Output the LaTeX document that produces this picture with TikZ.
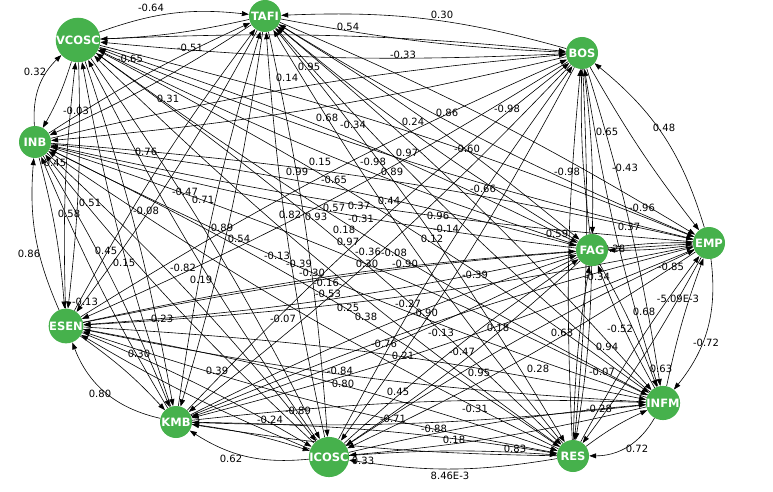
\documentclass[tikz,border=0pt]{standalone}
\usepackage{fontspec}
\setmainfont{DejaVu Sans}
\usetikzlibrary{arrows.meta}
\definecolor{nodegreen}{RGB}{70,177,76}
\pgfdeclarelayer{bg}
\pgfsetlayers{bg,main}
\begin{document}
\begin{tikzpicture}[x=1pt,y=1pt,
  vertex/.style={circle,fill=nodegreen,minimum size=32pt,inner sep=0pt,text=white,font=\bfseries\fontsize{11.5}{11.5}\selectfont},
  edge/.style={draw=black,line width=0.6pt,-{Triangle[length=7pt,width=5pt]}},
  wlabel/.style={inner sep=0pt,font=\fontsize{10}{10}\selectfont,text height=7.3pt,text depth=0pt}]
\useasboundingbox (0,0) rectangle (773,-492);
% nodes
\node[vertex] (vc)  at (78,-40)   {VCOSC};
\node[vertex] (ta)  at (265,-16)  {TAFI};
\node[vertex] (bo)  at (582,-53)  {BOS};
\node[vertex] (em)  at (709,-243) {EMP};
\node[vertex] (inf) at (663,-403) {INFM};
\node[vertex] (re)  at (573,-456) {RES};
\node[vertex] (ic)  at (329,-457) {ICOSC};
\node[vertex] (km)  at (176,-422) {KMB};
\node[vertex] (es)  at (66,-326)  {ESEN};
\node[vertex] (ib)  at (35,-142)  {INB};
\node[vertex] (fa)  at (592,-250) {FAG};
\begin{pgfonlayer}{bg}
% inner pairs, both directions
\foreach \a/\b in {vc/bo,vc/em,vc/inf,vc/re,vc/ic,vc/km,vc/es,vc/fa,
  ta/em,ta/inf,ta/re,ta/ic,ta/km,ta/es,ta/ib,ta/fa,
  bo/inf,bo/re,bo/ic,bo/km,bo/es,bo/ib,bo/fa,
  em/re,em/ic,em/km,em/es,em/ib,em/fa,
  inf/ic,inf/km,inf/es,inf/ib,inf/fa,
  re/km,re/es,re/ib,re/fa,
  ic/es,ic/ib,ic/fa,
  km/ib,km/fa,
  es/fa,
  ib/fa}{
  \draw[edge] (\a) to[bend left=4] (\b);
  \draw[edge] (\b) to[bend left=4] (\a);
}
% ring pairs
\draw[edge] (vc) to[bend left=13] (ta);
\draw[edge] (ta) to[bend left=5] (vc);
\draw[edge] (bo) to[bend right=9] (ta);
\draw[edge] (ta) to[bend right=4] (bo);
\draw[edge] (em) to[bend right=17] (bo);
\draw[edge] (bo) to[bend right=4] (em);
\draw[edge] (em) to[bend left=23] (inf);
\draw[edge] (inf) to[bend left=4] (em);
\draw[edge] (inf) to[bend left=30] (re);
\draw[edge] (re) to[bend left=6] (inf);
\draw[edge] (re) to[bend left=9] (ic);
\draw[edge] (ic) to[bend left=4] (re);
\draw[edge] (ic) to[bend left=19] (km);
\draw[edge] (km) to[bend left=5] (ic);
\draw[edge] (km) to[bend left=28] (es);
\draw[edge] (es) to[bend left=6] (km);
\draw[edge] (es) to[bend left=14] (ib);
\draw[edge] (ib) to[bend left=5] (es);
\draw[edge] (ib) to[bend left=25] (vc);
\draw[edge] (vc) to[bend left=6] (ib);
% labels
\foreach \t/\x/\y [count=\i] in {
 -0.64/151/8, -0.51/190/48, -0.65/130/59, 0.32/35/72, -0.03/76/111,
 0.31/168/99, 0.76/146/152, 0.45/55/163, 0.30/442/15, 0.54/348/27,
 -0.33/403/55, 0.95/309/67, 0.14/287/78, 0.68/327/118, -0.34/353/125,
 0.24/413/122, 0.86/447/113, -0.60/467/149, 0.97/407/153, -0.98/373/162,
 0.15/320/162, 0.99/297/172, -0.65/334/180, 0.89/392/172, -0.98/507/109,
 0.65/607/132, 0.48/664/128, -0.43/625/168, -0.98/567/172, -0.66/483/189,
 0.44/389/201, 0.57/334/208, 0.37/359/206, -0.31/361/219, 0.82/290/215,
 0.93/316/217, 0.18/344/230, 0.97/348/242, -0.36/368/252, 0.30/367/264,
 -0.08/394/253, -0.90/405/264, 0.96/438/216, -0.14/446/229, 0.12/432/239,
 -0.13/277/256, -0.39/299/264, -0.30/312/273, -0.16/326/283, -0.53/328/294,
 0.25/348/308, 0.38/366/317, -0.27/408/304, -0.90/425/313, -0.07/283/319,
 -0.39/475/275, -0.47/185/192, 0.71/203/200, 0.51/90/203, 0.58/69/214,
 -0.08/146/211, 0.89/222/228, 0.54/239/239, 0.86/29/254, 0.45/106/251,
 0.15/124/263, -0.82/183/268, 0.19/201/280, -0.13/85/302, 0.23/162/319,
 0.30/139/354, 0.39/217/371, 0.80/100/394, 0.62/231/459, -0.13/441/333,
 -0.76/384/344, 0.21/403/356, -0.47/462/352, 0.95/479/373, -0.84/340/371,
 0.80/343/384, 0.45/398/392, -0.31/475/409, -0.89/298/411, -0.24/270/420,
 -0.71/393/419, -0.88/434/429, 0.18/454/440, 0.33/363/461, 8.46E-3/450/476,
 0.18/498/328, 0.63/562/333, -0.52/620/329, 0.94/607/347, -0.72/706/343,
 0.28/538/369, -0.07/602/372, 0.63/661/369, -0.28/599/409, 0.83/515/449,
 0.72/637/449, -0.96/642/208, 0.37/629/227, 0.59/557/234, -0.85/671/267,
 0.68/644/312, -5.09E-3/678/299, -0.34/597/277, 0.28/614/249}{
  \node[wlabel] (l\i) at (\x,-\y) {\t};
}
\end{pgfonlayer}
\end{tikzpicture}
\end{document}
